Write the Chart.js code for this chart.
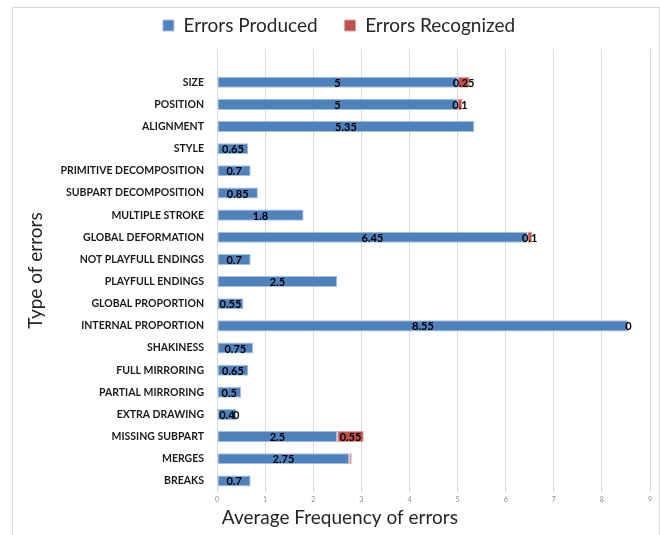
<!DOCTYPE html>
<html>
<head>
<meta charset="utf-8">
<script src="https://cdn.jsdelivr.net/npm/chart.js@4/dist/chart.umd.min.js"></script>
<style>
    html, body { margin: 0; padding: 0; background: #fff; }
    #wrap { width: 660px; height: 535px; position: relative; }
</style>
</head>
<body>
<div id="wrap"><canvas id="chart" width="660" height="535"></canvas></div>
<script>
// first entry is the empty slot Excel leaves at the top of the axis
const categories = ['', 'SIZE', 'POSITION', 'ALIGNMENT', 'STYLE', 'PRIMITIVE DECOMPOSITION',
    'SUBPART DECOMPOSITION', 'MULTIPLE STROKE', 'GLOBAL DEFORMATION', 'NOT PLAYFULL ENDINGS',
    'PLAYFULL ENDINGS', 'GLOBAL PROPORTION', 'INTERNAL PROPORTION', 'SHAKINESS', 'FULL MIRRORING',
    'PARTIAL MIRRORING', 'EXTRA DRAWING', 'MISSING SUBPART', 'MERGES', 'BREAKS'];

const errorsProduced = [null, 5, 5, 5.35, 0.65, 0.7, 0.85, 1.8, 6.45, 0.7,
    2.5, 0.55, 8.55, 0.75, 0.65, 0.5, 0.4, 2.5, 2.75, 0.7];

const errorsRecognized = [null, 0.25, 0.1, null, null, null, null, null, 0.1, null,
    null, null, 0, null, null, null, 0, 0.55, 0.05, null];

// labels as printed on the chart (merges has no visible label)
const producedLabels = errorsProduced.map(v => v === null ? null : String(v));
const recognizedLabels = [null, '0.25', '0.1', null, null, null, null, null, '0.1', null,
    null, null, '0', null, null, null, '0', '0.55', null, null];

const xTicks = [0, 1, 2, 3, 4, 5, 6, 7, 8, 9];

const FONT = 'Lato, "Open Sans", sans-serif';

const frame = {
    id: 'frame',
    beforeDraw(chart) {
        const ctx = chart.ctx;
        ctx.save();
        ctx.fillStyle = '#fff';
        ctx.fillRect(0, 0, chart.width, chart.height);
        ctx.strokeStyle = '#d9d9d9';
        ctx.lineWidth = 1;
        ctx.strokeRect(12.5, 7.5, 647, 540);
        ctx.restore();
    }
};

// wide gap between legend items without a tall legend box
const legendFit = {
    id: 'legendFit',
    beforeLayout(chart) {
        const lg = chart.legend;
        if (lg && !lg._fitPatched) {
            const orig = lg.fit;
            lg.fit = function () {
                orig.call(this);
                this.height = 60;
            };
            lg._fitPatched = true;
        }
    },
    afterLayout(chart) {
        // legend sits a bit right of the canvas centre
        chart.legend.left += 14;
        chart.legend.right += 14;
    }
};

const barLabels = {
    id: 'barLabels',
    afterDatasetsDraw(chart) {
        const ctx = chart.ctx;
        const texts = [producedLabels, recognizedLabels];
        ctx.save();
        ctx.font = 'bold 11px ' + FONT;
        ctx.fillStyle = '#000';
        ctx.textAlign = 'center';
        ctx.textBaseline = 'middle';
        chart.data.datasets.forEach((ds, di) => {
            const meta = chart.getDatasetMeta(di);
            meta.data.forEach((bar, i) => {
                const t = texts[di][i];
                if (t === null || t === undefined) return;
                const p = bar.getProps(['x', 'y', 'base'], true);
                ctx.fillText(t, (p.x + p.base) / 2, p.y + 1);
            });
        });
        ctx.restore();
    }
};

new Chart(document.getElementById('chart'), {
    type: 'bar',
    data: {
        labels: categories,
        datasets: [{
            label: 'Errors Produced',
            data: errorsProduced,
            backgroundColor: '#4f81bd',
            borderColor: '#a7c0de',
            borderWidth: 1,
            borderSkipped: false,
            categoryPercentage: 1,
            barPercentage: 0.5
        }, {
            label: 'Errors Recognized',
            data: errorsRecognized,
            backgroundColor: '#c0504d',
            borderColor: '#dba3a2',
            borderWidth: 1,
            borderSkipped: false,
            categoryPercentage: 1,
            barPercentage: 0.5
        }]
    },
    options: {
        indexAxis: 'y',
        responsive: false,
        animation: false,
        layout: { padding: { top: -11, right: 10, left: 0, bottom: 0 } },
        plugins: {
            legend: {
                position: 'top',
                labels: {
                    font: { family: FONT, size: 19 },
                    color: '#262626',
                    boxWidth: 11,
                    boxHeight: 11,
                    padding: 27
                }
            },
            tooltip: { enabled: false }
        },
        scales: {
            x: {
                stacked: true,
                min: 0,
                max: 9,
                afterBuildTicks: scale => { scale.ticks = xTicks.map(v => ({ value: v })); },
                ticks: { font: { family: FONT, size: 7 }, color: '#8c8c8c', padding: 4 },
                grid: { color: '#d9d9d9', drawTicks: false },
                border: { display: false },
                title: {
                    display: true,
                    text: ' Average Frequency of errors',
                    align: 'start',
                    font: { family: FONT, size: 19 },
                    color: '#262626',
                    padding: { top: 2, bottom: 6 }
                },
                afterFit: scale => { scale.height = 43; }
            },
            y: {
                stacked: true,
                ticks: {
                    font: { family: FONT, size: 10.5, weight: 'bold' },
                    color: '#1a1a1a',
                    padding: 5,
                    autoSkip: false
                },
                grid: { display: false },
                border: { display: false },
                title: {
                    display: true,
                    text: 'Type of errors',
                    font: { family: FONT, size: 19 },
                    color: '#262626',
                    padding: { top: 24, bottom: 0 }
                },
                afterFit: scale => { scale.width = 217; }
            }
        }
    },
    plugins: [frame, legendFit, barLabels]
});
</script>
</body>
</html>
